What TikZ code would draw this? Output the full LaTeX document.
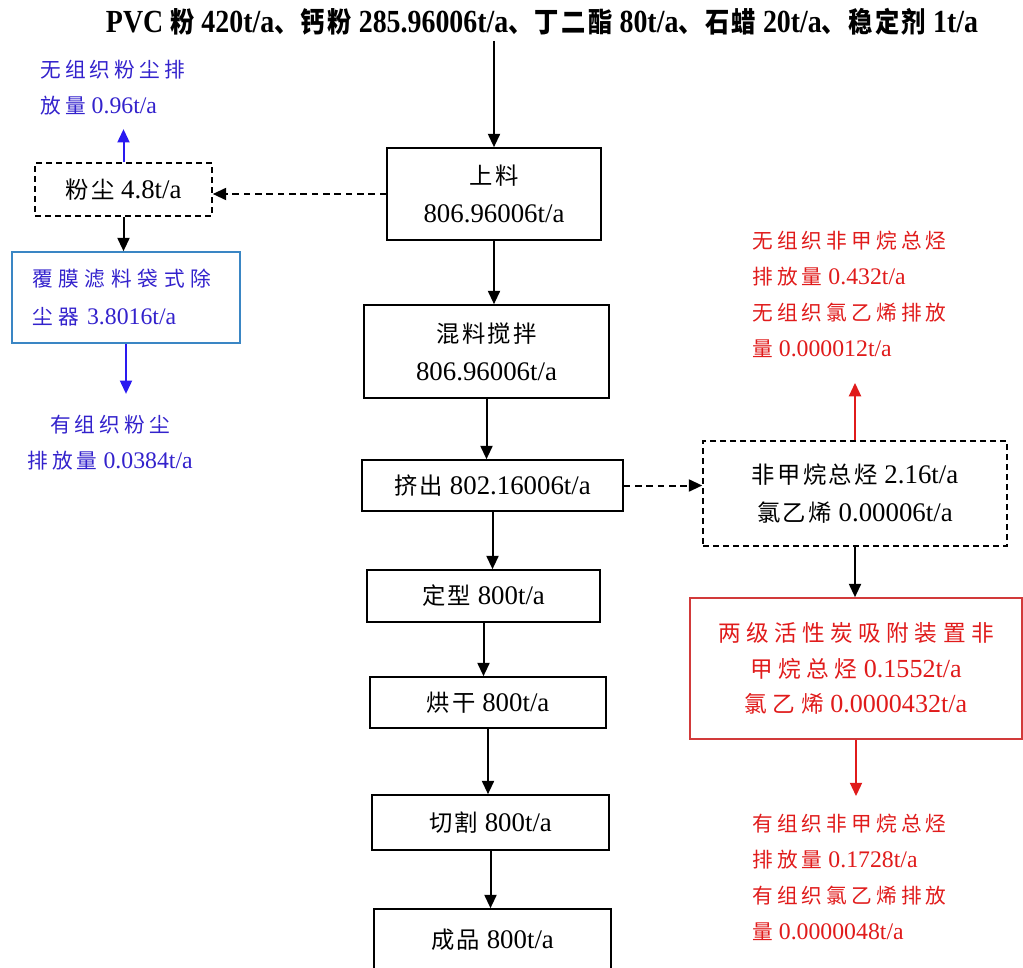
\documentclass[tikz,border=0pt]{standalone}
\usepackage{fontspec}
\setmainfont[Scale=1.15]{Liberation Serif}
\newfontfamily\cjk[LetterSpace=10]{Noto Sans CJK SC}
\newfontfamily\cjklbl[LetterSpace=20]{Noto Sans CJK SC}
\newfontfamily\cjkwide[LetterSpace=28]{Noto Sans CJK SC}
\newfontfamily\cjkred[LetterSpace=24]{Noto Sans CJK SC}
\usepackage{xcolor}
\usepackage{tikz}
\usetikzlibrary{
	arrows.meta,positioning
}
\definecolor{dustblue}{HTML}{3322CC}
\definecolor{arrowblue}{HTML}{2A1AF0}
\definecolor{filtblue}{HTML}{3A86C4}
\definecolor{vocred}{HTML}{E01B1B}
\definecolor{adsred}{HTML}{D23A3A}
\newcommand{\zh}[1]{{\cjk #1}}
\newcommand{\zl}[1]{{\cjklbl #1}}
\newcommand{\zw}[1]{{\cjkwide #1}}
\newcommand{\zr}[1]{{\cjkred #1}}
\tikzset{
	box/.style={draw,line width=1.2pt,align=center,inner sep=0pt,
		font=\fontsize{17.5}{28.5}\selectfont},
	dbox/.style={box,dash pattern=on 4.5pt off 3pt},
	filtbox/.style={box,draw=filtblue,text=dustblue,text width=141pt,align=left,
		font=\fontsize{15.5}{28.5}\selectfont},
	adsbox/.style={box,draw=adsred,text=vocred,font=\fontsize{17}{26.6}\selectfont},
	lbl/.style={inner sep=0pt,font=\fontsize{15.5}{27}\selectfont},
}

\begin{document}
\begin{tikzpicture}[x=0.75pt,y=-0.75pt,>={Triangle[width=9pt,length=10pt]}]
		\useasboundingbox (0,0) rectangle (1023,967);
		\node (title) at (542,22) {\resizebox{654pt}{\height}{\fontsize{21}{24}\selectfont\bfseries
			PVC \zh{粉} 420t/a\zh{、钙粉} 285.96006t/a\zh{、丁二酯} 80t/a\zh{、石蜡} 20t/a\zh{、稳定剂} 1t/a}};
		%
		\node[box,minimum width=160.5pt,minimum height=69pt] (feed) at (494,194) {\zh{上料}\\806.96006t/a};
		\node[box,minimum width=183.75pt,minimum height=69.75pt] (mix) at (486.5,351.5) {\zh{混料搅拌}\\806.96006t/a};
		\node[box,minimum width=195.75pt,minimum height=38.25pt] (ext) at (492.5,485.5) {\zh{挤出} 802.16006t/a};
		\node[box,minimum width=174.75pt,minimum height=39pt] (shape) at (483.5,596) {\zh{定型} 800t/a};
		\node[box,minimum width=177pt,minimum height=38.25pt] (dry) at (488,702.5) {\zh{烘干} 800t/a};
		\node[box,minimum width=177.75pt,minimum height=41.25pt] (cut) at (490.5,822.5) {\zh{切割} 800t/a};
		\node[box,minimum width=177.75pt,minimum height=46.5pt] (prod) at (492.5,940) {\zh{成品} 800t/a};
		%
		\node[dbox,minimum width=132.75pt,minimum height=39.75pt] (dust) at (123.5,189.5) {\zh{粉尘} 4.8t/a};
		\node[filtbox,minimum width=171pt,minimum height=68.25pt] (filt) at (126,297.5) {\zw{覆膜滤料袋式除}\\\zw{尘器} 3.8016t/a};
		\node[lbl,text=dustblue,align=left,anchor=west] (dustfree) at (40,88) {\zl{无组织粉尘排}\\\zl{放量} 0.96t/a};
		\node[lbl,text=dustblue,align=center] (dustorg) at (110,443) {\zl{有组织粉尘}\\\zl{排放量} 0.0384t/a};
		%
		\node[dbox,minimum width=228pt,minimum height=78.75pt] (gas) at (855,493.5) {\zh{非甲烷总烃} 2.16t/a\\\zh{氯乙烯} 0.00006t/a};
		\node[adsbox,minimum width=249pt,minimum height=105.75pt] (ads) at (856,668.5) {\zr{两级活性炭吸附装置非}\\\zr{甲烷总烃} 0.1552t/a\\\zr{氯乙烯} 0.0000432t/a};
		\node[lbl,text=vocred,align=left,anchor=west] (vocfree) at (752,294) {\zl{无组织非甲烷总烃}\\\zl{排放量} 0.432t/a\\\zl{无组织氯乙烯排放}\\\zl{量} 0.000012t/a};
		\node[lbl,text=vocred,align=left,anchor=west] (vocorg) at (752,877) {\zl{有组织非甲烷总烃}\\\zl{排放量} 0.1728t/a\\\zl{有组织氯乙烯排放}\\\zl{量} 0.0000048t/a};
		%
		\path[->,line width=1.5pt]
		(feed.north |- title.south) edge (feed.north)
		(feed.south) edge (feed.south |- mix.north)
		(mix.south) edge (mix.south |- ext.north)
		(ext.south) edge (ext.south |- shape.north)
		(shape.south) edge (shape.south |- dry.north)
		(dry.south) edge (dry.south |- cut.north)
		(cut.south) edge (cut.south |- prod.north)
		(dust.south) edge (dust.south |- filt.north)
		(gas.south) edge (gas.south |- ads.north);
		%
		\path[->,line width=1.5pt,dash pattern=on 5pt off 3.5pt]
		(feed.west) edge (feed.west -| dust.east)
		(ext.east) edge (ext.east -| gas.west);
		%
		\path[->,line width=1.5pt,color=arrowblue]
		(dust.north) edge ([yshift=-10pt]dust.north |- dustfree.south)
		(filt.south) edge ([yshift=16pt]filt.south |- dustorg.north);
		\path[->,line width=1.5pt,color=vocred]
		(gas.north) edge ([yshift=-19pt]gas.north |- vocfree.south)
		(ads.south) edge ([yshift=13pt]ads.south |- vocorg.north);
	\end{tikzpicture}
\end{document}
